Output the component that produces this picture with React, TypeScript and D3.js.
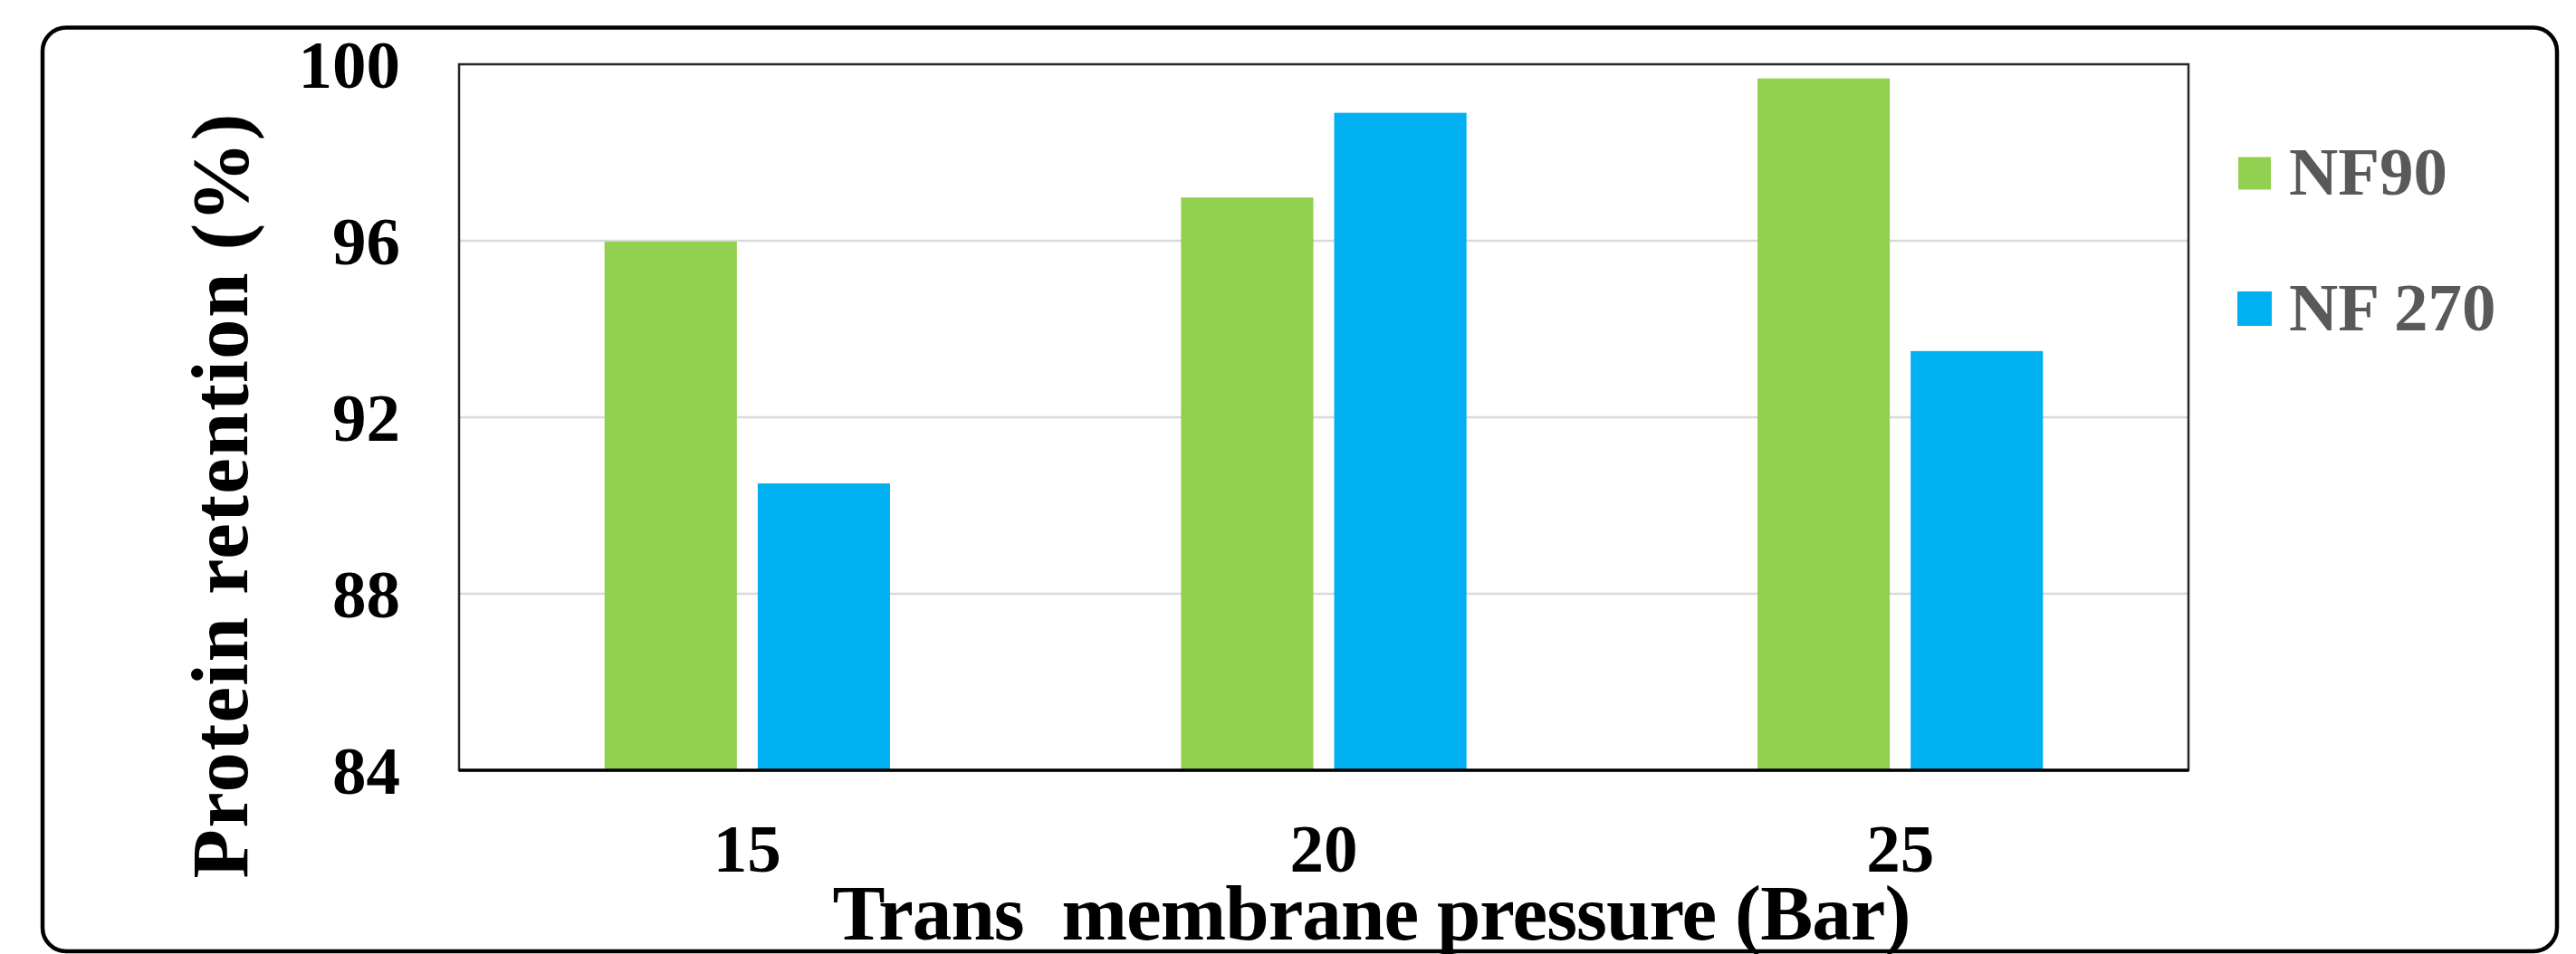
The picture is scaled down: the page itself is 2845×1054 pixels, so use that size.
import React from "react";
import * as d3 from "d3";

const categories = ["15", "20", "25"];
const seriesNames = ["NF90", "NF 270"];
const nf90Values = [95.98, 96.98, 99.68];
const nf270Values = [90.5, 98.9, 93.5];
const yTicks = [84, 88, 92, 96, 100];
const seriesColors = ["#92D050", "#00B0F0"];

const W = 2845;
const H = 1054;
const plot = { left: 507, right: 2417, top: 71, bottom: 851 };
const FONT = "'Liberation Serif', 'Times New Roman', serif";

export default function App() {
  const x0 = d3
    .scaleBand<string>()
    .domain(categories)
    .range([plot.left, plot.right])
    .paddingInner(0)
    .paddingOuter(0);
  const x1 = d3
    .scaleBand<string>()
    .domain(seriesNames)
    .range([0, x0.bandwidth()])
    .paddingInner(0.136)
    .paddingOuter(0.95);
  const y = d3.scaleLinear().domain([84, 100]).range([plot.bottom, plot.top]);

  const seriesValues = [nf90Values, nf270Values];

  return (
    <svg
      width={W}
      height={H}
      style={{ position: "absolute", left: 0, top: 0, background: "#fff" }}
      fontFamily={FONT}
    >
      <rect x={0} y={0} width={W} height={H} fill="#fff" />
      {/* outer rounded frame */}
      <rect
        x={47}
        y={30.5}
        width={2824 - 47}
        height={1051 - 30.5}
        rx={26}
        ry={26}
        fill="none"
        stroke="#000"
        strokeWidth={4.5}
      />
      {/* gridlines */}
      {yTicks
        .filter((t) => t !== 84 && t !== 100)
        .map((t) => (
          <line
            key={"g" + t}
            x1={plot.left}
            x2={plot.right}
            y1={y(t)}
            y2={y(t)}
            stroke="#D9D9D9"
            strokeWidth={2.5}
          />
        ))}
      {/* bars */}
      {categories.map((c, i) => (
        <g key={c} transform={`translate(${x0(c)},0)`}>
          {seriesNames.map((s, j) => (
            <rect
              key={s}
              x={x1(s)}
              y={y(seriesValues[j][i])}
              width={x1.bandwidth()}
              height={y(84) - y(seriesValues[j][i])}
              fill={seriesColors[j]}
            />
          ))}
        </g>
      ))}
      {/* plot frame */}
      <rect
        x={plot.left}
        y={plot.top}
        width={plot.right - plot.left}
        height={plot.bottom - plot.top}
        fill="none"
        stroke="#262626"
        strokeWidth={2.5}
      />
      <line
        x1={plot.left}
        x2={plot.right}
        y1={plot.bottom}
        y2={plot.bottom}
        stroke="#000"
        strokeWidth={3.5}
      />
      {/* y tick labels */}
      {yTicks.map((t) => (
        <text
          key={"yt" + t}
          x={442}
          y={y(t)}
          dy="0.34em"
          textAnchor="end"
          fontSize={75}
          fontWeight="bold"
          fill="#000"
        >
          {t}
        </text>
      ))}
      {/* x tick labels */}
      {categories.map((c) => (
        <text
          key={"xt" + c}
          x={(x0(c) as number) + x0.bandwidth() / 2}
          y={963}
          textAnchor="middle"
          fontSize={75}
          fontWeight="bold"
          fill="#000"
        >
          {c}
        </text>
      ))}
      {/* axis titles */}
      <text
        x={1515}
        y={1038}
        textAnchor="middle"
        fontSize={87}
        fontWeight="bold"
        fill="#000"
        textLength={1191}
        lengthAdjust="spacing"
        style={{ whiteSpace: "pre" }}
      >
        {"Trans  membrane pressure (Bar)"}
      </text>
      <text
        transform={`translate(273,548) rotate(-90)`}
        textAnchor="middle"
        fontSize={89}
        fontWeight="bold"
        fill="#000"
        textLength={845}
        lengthAdjust="spacing"
      >
        Protein retention (%)
      </text>
      {/* legend */}
      {seriesNames.map((s, j) => {
        const cy = j === 0 ? 191.5 : 341;
        const sz = j === 0 ? 36 : 38;
        return (
          <g key={"lg" + s}>
            <rect x={2490 - sz / 2} y={cy - sz / 2} width={sz} height={sz} fill={seriesColors[j]} />
            <text
              x={2528}
              y={j === 0 ? 215 : 365}
              fontSize={75}
              fontWeight="bold"
              fill="#595959"
              style={{ whiteSpace: "pre" }}
            >
              {s}
            </text>
          </g>
        );
      })}
    </svg>
  );
}
